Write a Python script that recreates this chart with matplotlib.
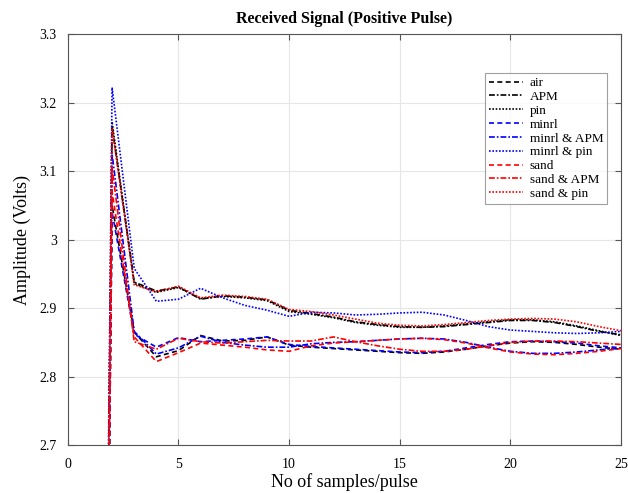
import matplotlib
matplotlib.use("Agg")
import matplotlib.pyplot as plt

plt.rcParams["font.family"] = ["Liberation Serif", "DejaVu Serif"]

samples = list(range(1, 26))

air = [0, 3.05, 2.865, 2.829, 2.838, 2.860, 2.852, 2.853, 2.858, 2.846, 2.843, 2.841, 2.839,
       2.837, 2.835, 2.834, 2.836, 2.840, 2.845, 2.849, 2.851, 2.850, 2.847, 2.843, 2.840]
apm = [0, 3.165, 2.938, 2.925, 2.931, 2.913, 2.918, 2.916, 2.912, 2.897, 2.892, 2.887, 2.880,
       2.876, 2.873, 2.872, 2.873, 2.876, 2.879, 2.882, 2.882, 2.879, 2.873, 2.866, 2.861]
pin = [0, 3.172, 2.936, 2.923, 2.930, 2.914, 2.917, 2.915, 2.911, 2.895, 2.891, 2.886, 2.879,
       2.875, 2.872, 2.872, 2.874, 2.877, 2.880, 2.883, 2.883, 2.880, 2.874, 2.867, 2.860]
minrl = [0, 3.04, 2.862, 2.843, 2.857, 2.851, 2.853, 2.855, 2.858, 2.847, 2.844, 2.842, 2.840,
         2.838, 2.836, 2.835, 2.837, 2.842, 2.847, 2.851, 2.852, 2.851, 2.849, 2.845, 2.842]
minrl_apm = [0, 3.125, 2.866, 2.833, 2.842, 2.859, 2.850, 2.846, 2.843, 2.843, 2.848, 2.850, 2.851,
             2.853, 2.855, 2.856, 2.855, 2.850, 2.843, 2.837, 2.834, 2.834, 2.836, 2.839, 2.842]
minrl_pin = [0, 3.222, 2.958, 2.910, 2.913, 2.929, 2.915, 2.904, 2.897, 2.888, 2.894, 2.893, 2.890,
             2.891, 2.893, 2.894, 2.890, 2.882, 2.873, 2.868, 2.866, 2.864, 2.863, 2.864, 2.866]
sand = [0, 3.07, 2.858, 2.822, 2.835, 2.849, 2.846, 2.843, 2.839, 2.837, 2.845, 2.849, 2.851,
        2.853, 2.855, 2.856, 2.854, 2.849, 2.842, 2.836, 2.833, 2.832, 2.834, 2.837, 2.841]
sand_apm = [0, 3.105, 2.851, 2.840, 2.856, 2.851, 2.849, 2.851, 2.853, 2.852, 2.852, 2.858, 2.851,
            2.845, 2.840, 2.837, 2.837, 2.840, 2.845, 2.850, 2.852, 2.852, 2.851, 2.849, 2.847]
sand_pin = [0, 3.163, 2.934, 2.924, 2.932, 2.915, 2.919, 2.917, 2.913, 2.898, 2.895, 2.890, 2.884,
            2.878, 2.875, 2.874, 2.876, 2.879, 2.882, 2.884, 2.885, 2.884, 2.880, 2.873, 2.867]

# MATLAB-ish dense dash patterns
DASHED = (0, (3.0, 2.0))
DASHDOT = (0, (3.5, 1.2, 1.0, 1.2))
DOTTED = (0, (1.0, 1.0))

series = [
    ("air", air, "black", DASHED),
    ("APM", apm, "black", DASHDOT),
    ("pin", pin, "black", DOTTED),
    ("minrl", minrl, "blue", DASHED),
    ("minrl & APM", minrl_apm, "blue", DASHDOT),
    ("minrl & pin", minrl_pin, "blue", DOTTED),
    ("sand", sand, "red", DASHED),
    ("sand & APM", sand_apm, "red", DASHDOT),
    ("sand & pin", sand_pin, "red", DOTTED),
]

fig = plt.figure(figsize=(6.28, 4.93), dpi=100)
ax = fig.add_axes([0.108, 0.097, 0.881, 0.834])

for label, values, color, style in series:
    ax.plot(samples, values, color=color, linestyle=style, linewidth=1.2, label=label)

ax.set_xlim(0, 25)
ax.set_ylim(2.7, 3.3)
ax.set_xticks([0, 5, 10, 15, 20, 25])
ax.set_yticks([2.7, 2.8, 2.9, 3.0, 3.1, 3.2, 3.3])
ax.set_yticklabels(["2.7", "2.8", "2.9", "3", "3.1", "3.2", "3.3"])
ax.grid(True, color="#e6e6e6", linewidth=0.8)
ax.set_axisbelow(True)
ax.tick_params(direction="in", top=True, right=True, labelsize=10, length=4, color="#555555")
ax.tick_params(axis="x", pad=9)
ax.tick_params(axis="y", pad=8)
for spine in ax.spines.values():
    spine.set_color("#555555")

ax.set_title("Received Signal (Positive Pulse)", fontsize=11.5, fontweight="bold", pad=8)
ax.set_xlabel("No of samples/pulse", fontsize=13, labelpad=2)
ax.set_ylabel("Amplitude (Volts)", fontsize=13, labelpad=6)

leg = ax.legend(loc="upper right", bbox_to_anchor=(0.975, 0.905), fontsize=9.5, frameon=True,
                fancybox=False, edgecolor="#888888", handlelength=2.6, labelspacing=0.12,
                borderpad=0.3, handletextpad=0.5, borderaxespad=0)
leg.get_frame().set_linewidth(0.8)

fig.savefig("out.png", dpi=100)
